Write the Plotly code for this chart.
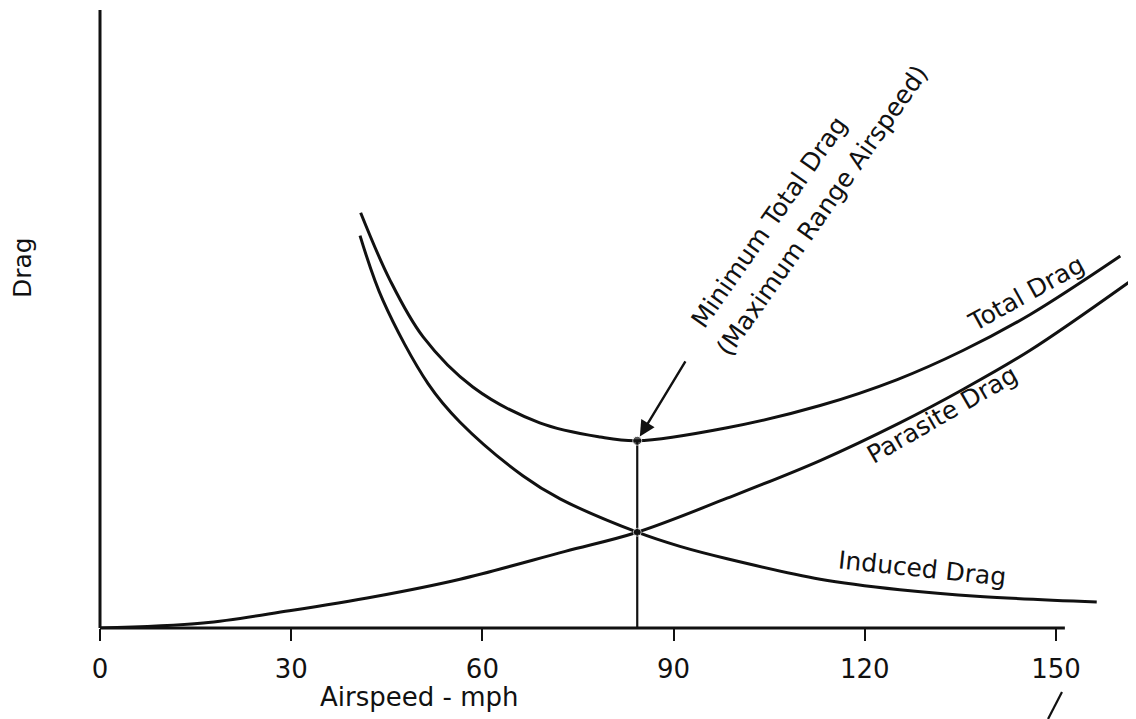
import plotly.graph_objects as go

# airspeed in mph, drag in arbitrary units (0-100 up the axis)
total_speed = [40.9, 45.5, 50.7, 58.5, 69.0, 78.5, 84.3,
               98.4, 113.0, 125.1, 135.4, 145.9, 160.1]
total_drag = [67.2, 56.3, 47.1, 39.0, 33.2, 30.9, 30.3,
              32.4, 36.0, 40.2, 44.9, 50.7, 60.2]

parasite_speed = [0, 16.2, 29.7, 43.2, 56.5, 73.0, 84.3, 98.4, 113.0, 125.5,
                  135.4, 145.9, 162.6]
parasite_drag = [0, 0.8, 2.8, 5.1, 7.9, 12.4, 15.5, 21.0, 27.1, 33.2,
                 38.6, 44.9, 56.8]

induced_speed = [40.8, 44.4, 51.5, 56.5, 66.4, 72.2, 84.3, 91.0, 98.4, 113.0,
                 125.5, 138.1, 156.4]
induced_drag = [63.5, 53.0, 39.5, 33.3, 24.6, 20.9, 15.5, 13.2, 11.2, 7.9,
                6.2, 5.1, 4.2]

min_speed = 84.3
min_drag = 30.3
cross_drag = 15.5

tick_vals = [0, 30, 60, 90, 120, 150]
tick_text = ["0", "30", "60", "90", "120", "150"]

INK = "#111111"
FONT = "DejaVu Sans"
PX_X = 6.373   # pixels per mph
PX_Y = 6.18    # pixels per drag unit

fig = go.Figure()

curve = dict(color=INK, width=3, shape="spline", smoothing=1.0)
fig.add_trace(go.Scatter(x=total_speed, y=total_drag, mode="lines", line=curve))
fig.add_trace(go.Scatter(x=parasite_speed, y=parasite_drag, mode="lines", line=curve))
fig.add_trace(go.Scatter(x=induced_speed, y=induced_drag, mode="lines", line=curve))

# minimum total drag drop line + dots
fig.add_trace(go.Scatter(x=[min_speed, min_speed], y=[0, min_drag], mode="lines",
                         line=dict(color=INK, width=2.2)))
fig.add_trace(go.Scatter(x=[min_speed, min_speed], y=[min_drag, cross_drag], mode="markers",
                         marker=dict(color=INK, size=[9, 8]), cliponaxis=False))

# axes lines
fig.add_shape(type="line", xref="x", yref="paper", x0=0, x1=151.4, y0=0, y1=0,
              line=dict(color=INK, width=3))
fig.add_shape(type="line", xref="x", yref="y", x0=0, x1=0, y0=0, y1=100,
              line=dict(color=INK, width=3))
# stray pen stroke under 150
fig.add_shape(type="line", xref="paper", yref="paper", x0=0.9299, y0=-0.1032,
              x1=0.9167, y1=-0.1468, line=dict(color=INK, width=2.2))

fig.add_annotation(x=min_speed, y=min_drag, ax=92.0, ay=43.4, axref="x", ayref="y",
                   text="", showarrow=True, arrowhead=2, arrowsize=1.3,
                   arrowwidth=2.4, arrowcolor=INK, standoff=5)

lab = dict(family=FONT, size=25, color=INK)
notes = [
    (105.1, 65.7, "Minimum Total Drag", -55),
    (113.3, 67.6, "(Maximum Range Airspeed)", -55),
    (145.3, 54.2, "Total Drag", -29),
    (132.2, 34.5, "Parasite Drag", -30),
    (129.0, 9.7, "Induced Drag", 6),
]
for nx, ny, txt, ang in notes:
    fig.add_annotation(x=nx, y=ny, text=txt, textangle=ang, showarrow=False,
                       xanchor="center", yanchor="middle", font=lab)

# axis titles
fig.add_annotation(x=50, xref="x", y=-0.1113, yref="paper", text="Airspeed - mph",
                   showarrow=False, xanchor="center", yanchor="middle",
                   font=dict(family=FONT, size=26, color=INK))
fig.add_annotation(x=-0.0549, xref="paper", y=0.5806, yref="paper", text="Drag",
                   textangle=-90, showarrow=False, xanchor="center", yanchor="middle",
                   font=dict(family=FONT, size=25, color=INK))

x0 = -20 / PX_X
fig.update_xaxes(range=[x0, x0 + 1056 / PX_X], showgrid=False, zeroline=False,
                 showline=False, tickmode="array", tickvals=tick_vals, ticktext=tick_text,
                 ticks="outside", ticklen=12, tickwidth=2, tickcolor=INK,
                 ticklabelstandoff=6, tickfont=dict(family=FONT, size=26, color=INK))
fig.update_yaxes(range=[0, 620 / PX_Y], showgrid=False, zeroline=False, showline=False,
                 showticklabels=False, ticks="")

# page body adds 8px, so the figure is 8px smaller than the window
fig.update_layout(width=1128, height=711, showlegend=False,
                  margin=dict(l=72, r=0, t=0, b=91),
                  paper_bgcolor="white", plot_bgcolor="white")

fig.write_html("out.html")
